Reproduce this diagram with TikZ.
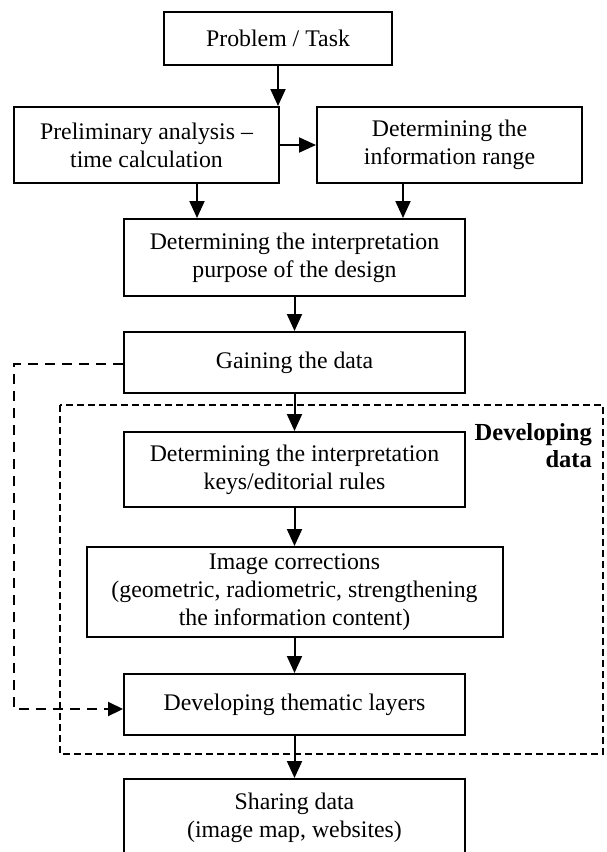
\documentclass[tikz,border=0pt]{standalone}
\usepackage{fontspec}
\setmainfont{Liberation Serif}
\usetikzlibrary{arrows.meta}
\begin{document}
\begin{tikzpicture}[x=1pt,y=-1pt,
  box/.style={draw, line width=2pt, inner sep=0pt, align=center,
    font=\fontsize{23.8}{27.8}\selectfont},
  tip/.style={-{Triangle[length=17pt,width=15pt]}},
  arr/.style={line width=2pt, tip},
  fb/.style={line width=2.2pt, dash pattern=on 10pt off 7pt, -{Triangle[length=15pt,width=14pt]}},
  grp/.style={line width=1.7pt, dash pattern=on 7pt off 4pt},
  lbl/.style={font=\bfseries\fontsize{24.5}{27}\selectfont, align=right, inner sep=0pt}]
\useasboundingbox (0,0) rectangle (606,852);
\clip (0,0) rectangle (606,852);
\fill[white] (0,0) rectangle (606,852);
% group frame
\draw[grp] (60,405) rectangle (603,754);
\node[lbl, anchor=north east] (devlbl) at (592,423) {Developing\\data};
% boxes
\node[box, minimum width=228pt, minimum height=53pt] (prob) at (278,38.5) {Problem / Task};
\node[box, minimum width=265pt, minimum height=76pt] (pre) at (146.5,145) {Preliminary analysis --\\time calculation};
\node[box, minimum width=265pt, minimum height=76pt] (info) at (449.5,145) {Determining the\\information range};
\node[box, minimum width=341pt, minimum height=77pt] (purp) at (294.5,257.5) {Determining the interpretation\\purpose of the design};
\node[box, minimum width=341pt, minimum height=61pt] (gain) at (294.5,362.5) {Gaining the data};
\node[box, minimum width=341pt, minimum height=75pt] (keys) at (294.5,469.5) {Determining the interpretation\\keys/editorial rules};
\node[box, minimum width=416pt, minimum height=90pt] (corr) at (294.5,592) {Image corrections\\(geometric, radiometric, strengthening\\the information content)};
\node[box, minimum width=341pt, minimum height=61pt] (them) at (294.5,704.5) {Developing thematic layers};
\node[box, minimum width=341pt, minimum height=77pt] (share) at (294.5,817.5) {Sharing data\\(image map, websites)};
% connectors
\draw[arr] (prob.south) -- (prob.south |- pre.north);
\draw[arr] (pre.east) -- (info.west);
\path (pre.south) ++(50.5,0) coordinate (a1);
\path (info.south) ++(-46.5,0) coordinate (a2);
\draw[arr] (a1) -- (a1 |- purp.north);
\draw[arr] (a2) -- (a2 |- purp.north);
\draw[arr] (purp.south) -- (gain.north);
\draw[arr] (gain.south) -- (keys.north);
\draw[arr] (keys.south) -- (corr.north);
\draw[arr] (corr.south) -- (them.north);
\draw[arr] (them.south) -- (share.north);
% feedback
\coordinate (fbl) at (14,0);
\coordinate (g) at ([yshift=-1.5pt]gain.west);
\coordinate (t) at ([yshift=-4.5pt]them.west);
\draw[fb] (g) -- (g -| fbl) -- (t -| fbl) -- (t);
\end{tikzpicture}
\end{document}
